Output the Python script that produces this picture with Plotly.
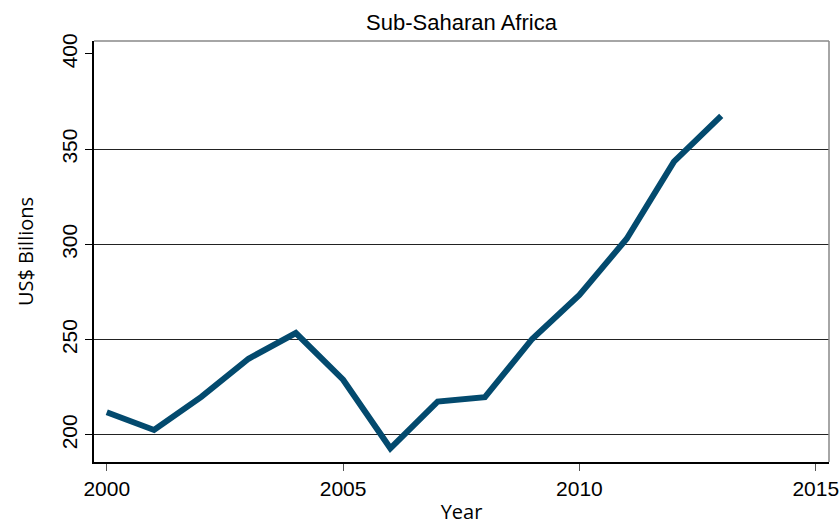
import plotly.graph_objects as go

years = list(range(2000, 2014))
values = [211.9, 202.6, 220.0, 240.0, 253.5, 229.0, 193.0, 217.5, 219.8, 250.4, 273.5, 303.0, 343.5, 367.5]
x_ticks = [2000, 2005, 2010, 2015]
y_ticks = [200, 250, 300, 350, 400]
grid_vals = [200, 250, 300, 350]

fig = go.Figure()
fig.add_trace(go.Scatter(x=years, y=values, mode="lines",
                         line=dict(color="#034a6e", width=6), showlegend=False))
# invisible trace on overlay axis for gridlines
fig.add_trace(go.Scatter(x=[years[0]], y=[values[0]], yaxis="y2", mode="markers",
                         marker=dict(opacity=0), showlegend=False, hoverinfo="skip"))

font = "Liberation Sans, Arial, sans-serif"
tfont = "Open Sans, sans-serif"
fig.update_layout(
    width=840, height=525,
    margin=dict(l=94, r=11, t=41, b=63),
    paper_bgcolor="white", plot_bgcolor="white",
    title=dict(text="Sub-Saharan Africa", x=0.5, xref="paper", xanchor="center",
               y=1 - 22 / 525, yref="container", yanchor="middle",
               font=dict(family=font, size=22, color="black")),
    xaxis=dict(range=[1999.73, 2015.28], tickvals=x_ticks, ticks="outside", ticklen=7,
               tickcolor="#555", showgrid=False, zeroline=False, showline=True,
               linecolor="black", linewidth=1.5, automargin=False,
               tickfont=dict(family=font, size=21, color="black"),
               title=dict(text="Year", font=dict(family=tfont, size=20, color="black"),
                          standoff=19)),
    yaxis=dict(range=[185.8, 406.8], tickvals=y_ticks, ticks="outside", ticklen=7,
               tickcolor="black", showgrid=False, zeroline=False, showline=True,
               linecolor="black", linewidth=1.5, tickangle=-90, automargin=False,
               tickfont=dict(family=font, size=21, color="black"),
               title=dict(text="US$ Billions", font=dict(family=tfont, size=20, color="black"),
                          standoff=19)),
    yaxis2=dict(range=[185.8, 406.8], overlaying="y", tickvals=grid_vals, showticklabels=False,
                showgrid=True, gridcolor="#222", gridwidth=1, zeroline=False, showline=False,
                side="left", automargin=False),
    shapes=[
        dict(type="line", xref="paper", yref="paper", x0=0, x1=1, y0=1, y1=1,
             line=dict(color="#888", width=1.5)),
        dict(type="line", xref="paper", yref="paper", x0=1, x1=1, y0=0, y1=1,
             line=dict(color="#888", width=1.5)),
    ],
)
fig.write_html("out.html", config={"displayModeBar": False},
               post_script="document.body.style.margin='0px';document.body.style.overflow='hidden';")
